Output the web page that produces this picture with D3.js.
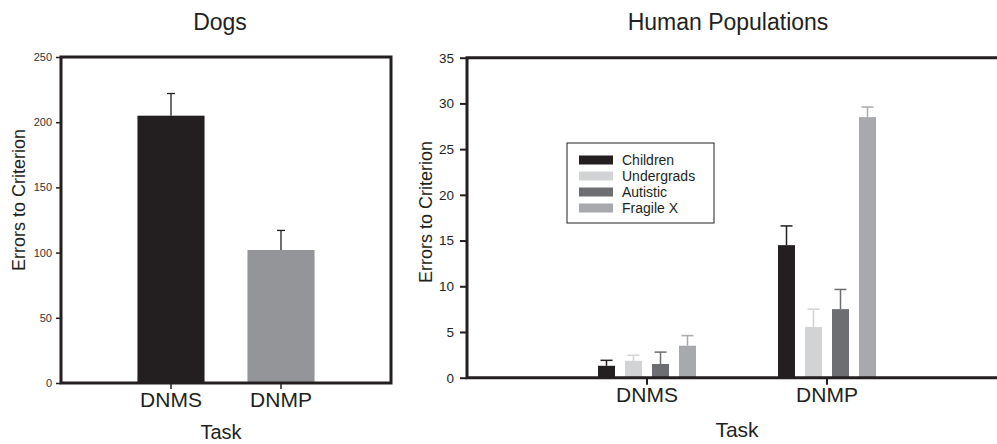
<!DOCTYPE html>
<html lang="en">
<head>
<meta charset="UTF-8">
<title>Dogs vs Human Populations</title>
<script src="https://d3js.org/d3.v7.min.js"></script>
<style>
  body { margin: 0; background: #fff; }
  text { font-family: Arial, "Liberation Sans", Helvetica, sans-serif; fill: #231f20; }
  .narrow { font-family: "Liberation Sans Narrow", "Arial Narrow", Arial, sans-serif; font-stretch: condensed; }
</style>
</head>
<body>
<svg width="997" height="444"></svg>
<script>
// data
const tasks = ["DNMS", "DNMP"];
const dogMeans = [205, 102];
const dogSem = [17, 15];
const dogColors = ["#231f20", "#939598"];
const dogTicks = [0, 50, 100, 150, 200, 250];

const groups = ["Children", "Undergrads", "Autistic", "Fragile X"];
const groupColors = ["#231f20", "#d1d3d4", "#6d6e71", "#a7a9ac"];
const dnmsMeans = [1.3, 1.85, 1.5, 3.5];
const dnmsSem = [0.6, 0.6, 1.3, 1.1];
const dnmpMeans = [14.5, 5.55, 7.5, 28.5];
const dnmpSem = [2.1, 1.95, 2.15, 1.1];
const humanTicks = [0, 5, 10, 15, 20, 25, 30, 35];

const ink = "#231f20";
const svg = d3.select("svg");

// ---------- Dogs ----------
const x0 = d3.scaleBand().domain(tasks).range([61, 391]).paddingInner(0.39).paddingOuter(0.695);
const y0 = d3.scaleLinear().domain([0, 250]).range([383, 57]);

const dogs = svg.append("g");
dogs.selectAll("rect.bar")
  .data(tasks)
  .enter().append("rect")
  .attr("x", d => x0(d))
  .attr("width", x0.bandwidth())
  .attr("y", (d, i) => y0(dogMeans[i]))
  .attr("height", (d, i) => y0(0) - y0(dogMeans[i]))
  .attr("fill", (d, i) => dogColors[i]);

// error bars (upper half only, like the original)
tasks.forEach((t, i) => {
  const cx = x0(t) + x0.bandwidth() / 2;
  const top = y0(dogMeans[i] + dogSem[i]);
  dogs.append("line").attr("x1", cx).attr("x2", cx)
    .attr("y1", y0(dogMeans[i])).attr("y2", top)
    .attr("stroke", ink).attr("stroke-width", 1.3);
  dogs.append("line").attr("x1", cx - 4).attr("x2", cx + 4)
    .attr("y1", top).attr("y2", top)
    .attr("stroke", ink).attr("stroke-width", 1.3);
});

// frame
dogs.append("rect")
  .attr("x", 61).attr("y", y0(250))
  .attr("width", 391 - 61).attr("height", y0(0) - y0(250))
  .attr("fill", "none").attr("stroke", ink).attr("stroke-width", 3);

const dogY = dogs.append("g")
  .attr("transform", "translate(61,0)")
  .call(d3.axisLeft(y0).tickValues(dogTicks).tickSize(5).tickPadding(4));
dogY.select(".domain").remove();
dogY.selectAll(".tick line").attr("stroke", ink).attr("stroke-width", 1.5);
dogY.selectAll(".tick text").attr("class", "narrow").style("font-size", "11px").style("fill", "#333");

const dogX = dogs.append("g")
  .attr("transform", "translate(0," + y0(0) + ")")
  .call(d3.axisBottom(x0).tickSize(5).tickPadding(10));
dogX.select(".domain").remove();
dogX.selectAll(".tick line").attr("stroke", ink).attr("stroke-width", 1.5).attr("transform", "translate(0,1)");
dogX.selectAll(".tick text").style("font-size", "21px").style("font-family", "Arial, 'Liberation Sans', sans-serif").attr("dy", "0.45em");

svg.append("text").attr("x", 221).attr("y", 439).attr("text-anchor", "middle")
  .style("font-size", "20px").text("Task");
svg.append("text").attr("transform", "translate(25,200) rotate(-90)").attr("text-anchor", "middle")
  .style("font-size", "18px").text("Errors to Criterion");
svg.append("text").attr("x", 220).attr("y", 30).attr("text-anchor", "middle")
  .style("font-size", "23px").text("Dogs");

// ---------- Human populations ----------
const x1 = d3.scaleBand().domain(tasks).range([467, 1007]).paddingInner(0.4).paddingOuter(0.7);
const xs = d3.scaleBand().domain(groups).range([0, x1.bandwidth()]).paddingInner(0.37).paddingOuter(0.185);
const y1 = d3.scaleLinear().domain([0, 35]).range([377.7, 57.7]);

const humanRows = [
  { task: "DNMS", means: dnmsMeans, sem: dnmsSem },
  { task: "DNMP", means: dnmpMeans, sem: dnmpSem }
];

const hum = svg.append("g");
const grp = hum.selectAll("g.task")
  .data(humanRows)
  .enter().append("g")
  .attr("transform", d => "translate(" + x1(d.task) + ",0)");

grp.selectAll("rect")
  .data(d => groups.map((g, i) => ({ g: g, i: i, m: d.means[i], s: d.sem[i] })))
  .enter().append("rect")
  .attr("x", d => xs(d.g))
  .attr("width", xs.bandwidth())
  .attr("y", d => y1(d.m))
  .attr("height", d => y1(0) - y1(d.m))
  .attr("fill", d => groupColors[d.i]);

grp.selectAll("g.err")
  .data(d => groups.map((g, i) => ({ g: g, i: i, m: d.means[i], s: d.sem[i] })))
  .enter().append("g")
  .each(function (d) {
    const cx = xs(d.g) + xs.bandwidth() / 2;
    const top = y1(d.m + d.s);
    const e = d3.select(this);
    e.append("line").attr("x1", cx).attr("x2", cx).attr("y1", y1(d.m)).attr("y2", top)
      .attr("stroke", groupColors[d.i]).attr("stroke-width", 1.5);
    e.append("line").attr("x1", cx - 6).attr("x2", cx + 6).attr("y1", top).attr("y2", top)
      .attr("stroke", groupColors[d.i]).attr("stroke-width", 1.5);
  });

// frame: top, left, bottom (no right edge)
hum.append("path")
  .attr("d", "M997," + y1(35) + "H467V" + y1(0) + "H997")
  .attr("fill", "none").attr("stroke", ink).attr("stroke-width", 3);

const humY = hum.append("g")
  .attr("transform", "translate(467,0)")
  .call(d3.axisLeft(y1).tickValues(humanTicks).tickSize(7).tickPadding(6));
humY.select(".domain").remove();
humY.selectAll(".tick line").attr("stroke", ink).attr("stroke-width", 2);
humY.selectAll(".tick text").style("font-size", "13.5px").style("font-family", "Arial, 'Liberation Sans', sans-serif");

const humX = hum.append("g")
  .attr("transform", "translate(0," + y1(0) + ")")
  .call(d3.axisBottom(x1).tickSize(6).tickPadding(9));
humX.select(".domain").remove();
humX.selectAll(".tick line").attr("stroke", ink).attr("stroke-width", 2).attr("transform", "translate(0,1)");
humX.selectAll(".tick text").style("font-size", "21px").style("font-family", "Arial, 'Liberation Sans', sans-serif").attr("dy", "0.45em");

svg.append("text").attr("x", 737).attr("y", 437).attr("text-anchor", "middle")
  .style("font-size", "21px").text("Task");
svg.append("text").attr("transform", "translate(432,212) rotate(-90)").attr("text-anchor", "middle")
  .style("font-size", "18px").text("Errors to Criterion");
svg.append("text").attr("x", 728).attr("y", 30).attr("text-anchor", "middle")
  .style("font-size", "23px").text("Human Populations");

// legend
const legend = hum.append("g").attr("transform", "translate(567,143)");
legend.append("rect").attr("width", 147).attr("height", 80)
  .attr("fill", "#fff").attr("stroke", ink).attr("stroke-width", 1);
const item = legend.selectAll("g.item")
  .data(groups)
  .enter().append("g")
  .attr("transform", (d, i) => "translate(12," + (17 + i * 16) + ")");
item.append("rect").attr("x", 0).attr("y", -4.5).attr("width", 34).attr("height", 9)
  .attr("fill", (d, i) => groupColors[i]);
item.append("text").attr("x", 43).attr("y", 5).style("font-size", "14px").text(d => d);
</script>
</body>
</html>
